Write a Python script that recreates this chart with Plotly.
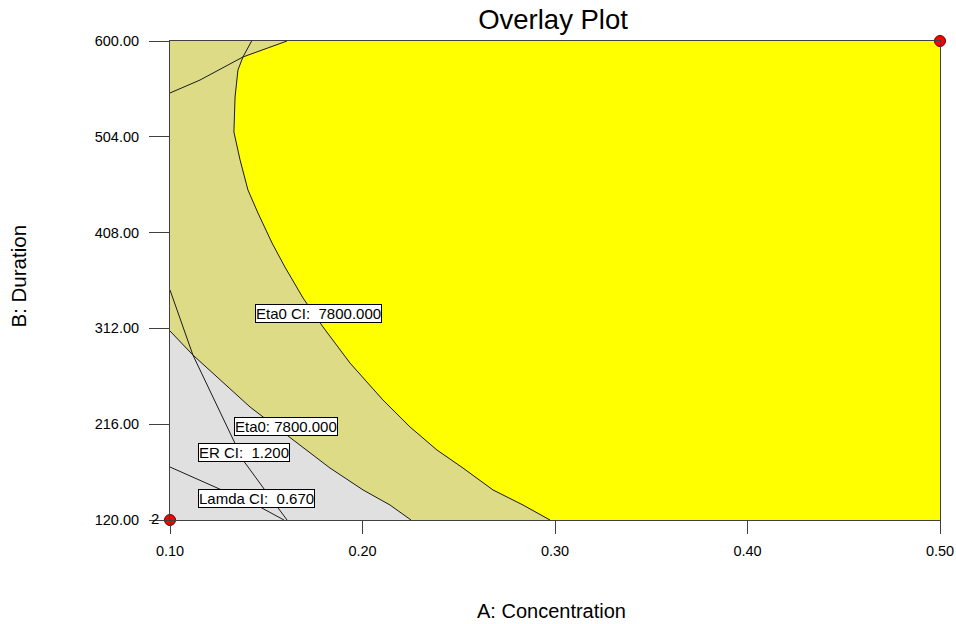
import plotly.graph_objects as go

# ---- data ----
x_ticks = [0.10, 0.20, 0.30, 0.40, 0.50]
x_tick_labels = ["0.10", "0.20", "0.30", "0.40", "0.50"]
y_ticks = [120, 216, 312, 408, 504, 600]
y_tick_labels = ["120.00", "216.00", "312.00", "408.00", "504.00", "600.00"]

# Eta0 CI = 7800 contour (bounds the yellow region)
eta0ci_A = [0.1424, 0.1379, 0.1353, 0.1338, 0.1332, 0.1364, 0.1405, 0.1457, 0.1530, 0.1597,
            0.1691, 0.1795, 0.1935, 0.2013, 0.2106, 0.2247, 0.2387, 0.2522, 0.2678, 0.2834, 0.2974]
eta0ci_B = [600.0, 584.0, 570.9, 543.9, 508.8, 480.8, 450.7, 427.6, 397.6, 373.5,
            342.5, 313.4, 277.3, 260.3, 240.3, 213.2, 190.1, 172.1, 150.1, 135.0, 120.0]

# upper-left constraint line
topleft_A = [0.1000, 0.1156, 0.1379, 0.1452, 0.1608]
topleft_B = [547.9, 560.9, 584.0, 589.0, 600.0]

# Eta0 = 7800 contour (bounds the grey region)
eta0_A = [0.1000, 0.1119, 0.1416, 0.1639, 0.1831, 0.2003, 0.2143, 0.2252]
eta0_B = [309.4, 285.3, 233.2, 200.2, 172.1, 150.1, 135.0, 120.0]

# ER CI = 1.200 contour
erci_A = [0.1000, 0.1119, 0.1312, 0.1379, 0.1504, 0.1608]
erci_B = [350.5, 285.3, 207.2, 180.1, 147.1, 120.0]

# Lamda CI = 0.670 contour
lamda_A = [0.1000, 0.1130, 0.1468, 0.1592]
lamda_B = [173.1, 162.1, 133.0, 120.0]

# design points
pts_A = [0.10, 0.50]
pts_B = [120, 600]

# contour labels
lab_text = ["Eta0 CI:\u00a0\u00a07800.000", "Eta0: 7800.000", "ER CI:\u00a0\u00a01.200",
            "Lamda CI:\u00a0\u00a00.670"]
lab_A = [0.1769, 0.1603, 0.1382, 0.1447]
lab_B = [326.9, 213.7, 188.1, 141.5]

# ---- colours ----
KHAKI = "#dedb87"
YELLOW = "#ffff00"
GREY = "#e0e0e0"
LINE = "#1a1a1a"
AXIS = "#404040"
FONT = "Liberation Sans, Arial"

fig = go.Figure()

# yellow region: top-left line (reversed up to the junction) + Eta0 CI contour + right corner
yel_A = [topleft_A[4], topleft_A[3]] + eta0ci_A[1:] + [0.5, 0.5]
yel_B = [topleft_B[4], topleft_B[3]] + eta0ci_B[1:] + [120, 600]
fig.add_trace(go.Scatter(x=yel_A, y=yel_B, fill="toself", fillcolor=YELLOW, mode="none",
                         hoverinfo="skip", showlegend=False))

# grey region below Eta0 contour
grey_A = eta0_A + [0.1]
grey_B = eta0_B + [120]
fig.add_trace(go.Scatter(x=grey_A, y=grey_B, fill="toself", fillcolor=GREY, mode="none",
                         hoverinfo="skip", showlegend=False))

for xs, ys in [(eta0ci_A, eta0ci_B), (topleft_A, topleft_B), (eta0_A, eta0_B),
               (erci_A, erci_B), (lamda_A, lamda_B)]:
    fig.add_trace(go.Scatter(x=xs, y=ys, mode="lines", line=dict(color=LINE, width=1),
                             hoverinfo="skip", showlegend=False))

fig.add_trace(go.Scatter(x=pts_A, y=pts_B, mode="markers",
                         marker=dict(color="#ff0000", size=11, line=dict(color="#600000", width=1)),
                         cliponaxis=False, hoverinfo="skip", showlegend=False))

annotations = []
for t, a, b in zip(lab_text, lab_A, lab_B):
    annotations.append(dict(x=a, y=b, xref="x", yref="y", text=t, showarrow=False,
                            font=dict(family=FONT, size=15, color="#000000"),
                            bgcolor="#ffffff", bordercolor="#000000", borderwidth=1, borderpad=0))

annotations.append(dict(x=pts_A[0], y=pts_B[0], xref="x", yref="y", text="2", showarrow=False,
                        xshift=-15, yshift=2,
                        font=dict(family=FONT, size=15, color="#000000")))

annotations.append(dict(x=0.496, y=-0.19, xref="paper", yref="paper", text="A: Concentration",
                        showarrow=False, xanchor="center", yanchor="middle",
                        font=dict(family=FONT, size=20, color="#000000")))
annotations.append(dict(x=-0.197, y=0.509, xref="paper", yref="paper", text="B: Duration",
                        showarrow=False, textangle=-90, xanchor="center", yanchor="middle",
                        font=dict(family=FONT, size=20.5, color="#000000")))

fig.update_layout(
    width=956, height=624,
    margin=dict(l=170, r=16, t=41, b=104),
    paper_bgcolor="#ffffff",
    plot_bgcolor=KHAKI,
    title=dict(text="Overlay Plot", x=0.5785, xanchor="center", y=0.9696, yanchor="middle",
               font=dict(family=FONT, size=27.5, color="#000000")),
    annotations=annotations,
    xaxis=dict(range=[0.1, 0.5], tickvals=x_ticks, ticktext=x_tick_labels, automargin=False,
               showgrid=False, zeroline=False, showline=True, mirror=True,
               linecolor=AXIS, linewidth=1, ticks="outside", ticklen=13, tickcolor=AXIS,
               ticklabelstandoff=5, ticklabeloverflow="allow",
               tickfont=dict(family=FONT, size=14.5, color="#000000")),
    yaxis=dict(range=[120, 600], tickvals=y_ticks, ticktext=y_tick_labels, automargin=False,
               showgrid=False, zeroline=False, showline=True, mirror=True,
               linecolor=AXIS, linewidth=1, ticks="outside", ticklen=20, tickcolor=AXIS,
               ticklabelstandoff=7, ticklabeloverflow="allow",
               tickfont=dict(family=FONT, size=14.5, color="#000000")),
)

fig.write_html("out.html")
